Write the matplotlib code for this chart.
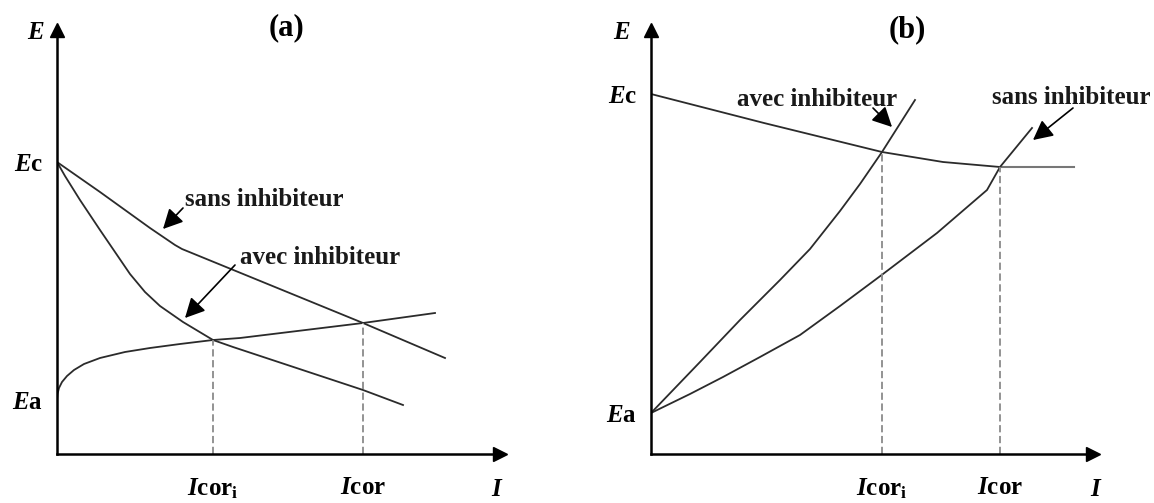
import matplotlib
matplotlib.use("Agg")
import matplotlib.pyplot as plt

plt.rcParams.update({
    "font.family": "Liberation Serif",
    "font.weight": "bold",
    "mathtext.fontset": "custom",
    "mathtext.rm": "Liberation Serif:bold",
    "mathtext.it": "Liberation Serif:italic:bold",
    "mathtext.bf": "Liberation Serif:bold",
})

# --- (a) inhibiteur cathodique : courbes E = f(I), unités arbitraires ---
a_Ec, a_Ea = 29.2, 5.4
a_icor_i, a_icor = 15.6, 30.6
a_E_icor_i, a_E_icor = 11.4, 13.1

a_sans_I = [0, 4.3, 9.3, 11.8, 12.5, 30.6, 38.8]
a_sans_E = [29.2, 26.2, 22.6, 20.9, 20.5, 13.1, 9.6]

a_avec_I = [0, 0.8, 2.3, 4.3, 5.8, 7.3, 8.8, 10.3, 12.6, 15.6, 17.6, 30.6, 34.6]
a_avec_E = [29.2, 27.8, 25.4, 22.4, 20.2, 18.0, 16.2, 14.8, 13.2, 11.4, 10.7, 6.4, 4.9]

a_anod_I = [0, 0.05, 0.2, 0.5, 1.0, 1.7, 2.7, 4.3, 6.8, 9.3, 12.3, 15.6, 18.3, 30.6, 37.8]
a_anod_E = [5.4, 6.0, 6.6, 7.2, 7.8, 8.4, 9.0, 9.6, 10.2, 10.6, 11.0, 11.4, 11.6, 13.1, 14.1]

# --- (b) inhibiteur anodique ---
b_Ec, b_Ea = 36.0, 4.1
b_icor_i, b_icor = 23.1, 34.9
b_E_icor_i, b_E_icor = 30.2, 28.7

b_cath_I = [0, 11.3, 23.1, 29.2, 34.9, 42.3]
b_cath_E = [36.0, 33.1, 30.2, 29.2, 28.7, 28.7]

b_avec_I = [0, 4.9, 8.9, 12.9, 15.9, 18.9, 20.9, 23.1, 26.4]
b_avec_E = [4.1, 9.2, 13.4, 17.4, 20.5, 24.3, 27.0, 30.2, 35.4]

b_sans_I = [0, 3.9, 7.2, 10.9, 14.9, 18.9, 23.2, 28.6, 33.6, 34.9, 38.1]
b_sans_E = [4.1, 6.0, 7.7, 9.7, 11.9, 14.8, 18.0, 22.1, 26.4, 28.7, 32.6]

W, H = 1154, 503
fig = plt.figure(figsize=(W / 100, H / 100), dpi=100)

LINE = "#2b2b2b"
DASH = "#8a8a8a"
FS = 18


def make_axes(ox, oy, w, h):
    # ox, oy : origine des axes en pixels ; 10 px par unité
    ax = fig.add_axes([ox / W, (H - oy) / H, w / W, h / H])
    ax.set_xlim(0, w / 10)
    ax.set_ylim(0, h / 10)
    ax.patch.set_alpha(0)
    for s in ("top", "right"):
        ax.spines[s].set_visible(False)
    for s in ("left", "bottom"):
        ax.spines[s].set_linewidth(1.8)
        ax.spines[s].set_color("black")
    ax.plot(1, 0, ">", color="black", ms=10, transform=ax.get_yaxis_transform(), clip_on=False)
    ax.plot(0, 1, "^", color="black", ms=10, transform=ax.get_xaxis_transform(), clip_on=False)
    ax.tick_params(length=0, labelsize=FS)
    ax.tick_params(axis="x", pad=16)
    ax.tick_params(axis="y", pad=10)
    return ax


def axis_labels(ax, ex, ix):
    ax.set_ylabel(r"$E$", rotation=0, fontsize=FS, va="center", ha="center")
    ax.yaxis.set_label_coords(ex, 0.993)
    ax.set_xlabel(r"$I$", fontsize=FS, va="center", ha="center")
    ax.xaxis.set_label_coords(ix, -0.085)


def arrow(ax, tail, tip):
    ax.annotate("", xy=tip, xytext=tail,
                arrowprops=dict(arrowstyle="-|>,head_length=0.75,head_width=0.38",
                                color="black", lw=1.2, mutation_scale=16,
                                shrinkA=0, shrinkB=0))


# ---------------- (a) ----------------
ax = make_axes(57, 454, 443, 424)
ax.plot(a_sans_I, a_sans_E, color=LINE, lw=1.3)
ax.plot(a_avec_I, a_avec_E, color=LINE, lw=1.3)
ax.plot(a_anod_I, a_anod_E, color=LINE, lw=1.3)
ax.vlines([a_icor_i, a_icor], 0, [a_E_icor_i, a_E_icor], colors=DASH, linestyles=(0, (4, 2)), lw=1.3)

ax.set_xticks([a_icor_i, a_icor])
ax.set_xticklabels([r"$I\mathrm{cor}_\mathrm{i}$", r"$I\mathrm{cor}$"])
ax.set_yticks([a_Ea, a_Ec])
ax.set_yticklabels([r"$E\mathrm{a}$", r"$E\mathrm{c}$"])
axis_labels(ax, -0.047, 0.993)
ax.text(0.519, 1.005, "(a)", transform=ax.transAxes, ha="center", va="center", fontsize=22)

ax.text(12.8, 25.4, "sans inhibiteur", ha="left", va="center", fontsize=FS, color="#1a1a1a")
arrow(ax, (12.6, 24.6), (10.6, 22.5))
ax.text(18.3, 19.7, "avec inhibiteur", ha="left", va="center", fontsize=FS, color="#1a1a1a")
arrow(ax, (17.8, 18.9), (12.8, 13.6))

# ---------------- (b) ----------------
ax = make_axes(651, 454, 442, 424)
k = b_cath_I.index(b_icor)
ax.plot(b_cath_I[:k + 1], b_cath_E[:k + 1], color=LINE, lw=1.3)
ax.plot(b_cath_I[k:], b_cath_E[k:], color="#777777", lw=1.5)
ax.plot(b_avec_I, b_avec_E, color=LINE, lw=1.3)
ax.plot(b_sans_I, b_sans_E, color=LINE, lw=1.3)
ax.vlines([b_icor_i, b_icor], 0, [b_E_icor_i, b_E_icor], colors=DASH, linestyles=(0, (4, 2)), lw=1.3)

ax.set_xticks([b_icor_i, b_icor])
ax.set_xticklabels([r"$I\mathrm{cor}_\mathrm{i}$", r"$I\mathrm{cor}$"])
ax.set_yticks([b_Ea, b_Ec])
ax.set_yticklabels([r"$E\mathrm{a}$", r"$E\mathrm{c}$"])
axis_labels(ax, -0.066, 1.007)
ax.text(0.58, 1.0, "(b)", transform=ax.transAxes, ha="center", va="center", fontsize=22)

ax.text(8.6, 35.4, "avec inhibiteur", ha="left", va="center", fontsize=FS, color="#1a1a1a")
arrow(ax, (22.2, 34.6), (24.1, 32.7))
ax.text(34.1, 35.7, "sans inhibiteur", ha="left", va="center", fontsize=FS, color="#1a1a1a")
arrow(ax, (42.2, 34.6), (38.2, 31.4))

fig.savefig("out.png", dpi=100, facecolor="white")
